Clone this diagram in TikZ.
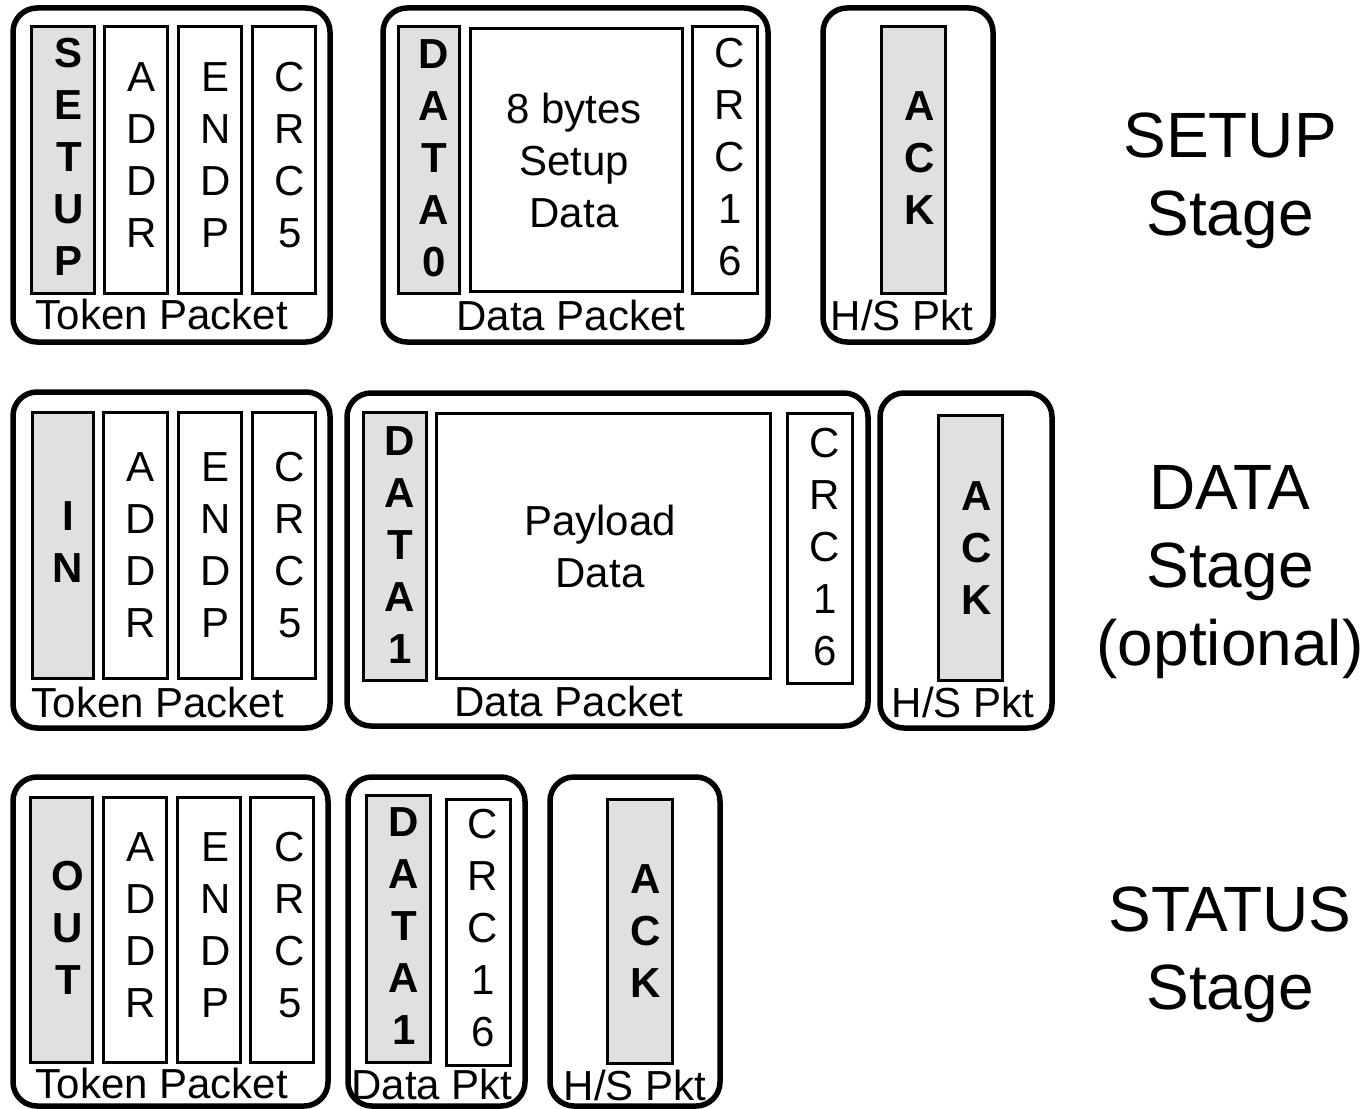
\documentclass[tikz,border=0pt]{standalone}
\usepackage{fontspec}
\setmainfont{Liberation Sans}
\definecolor{shade}{RGB}{224,224,226}
\tikzset{
  pkt/.style={line width=5.5pt, rounded corners=24pt},
  fld/.style={line width=3pt},
  sfld/.style={fld, fill=shade},
  ltr/.style={font=\fontsize{42}{52}\selectfont, align=center, inner sep=0pt},
  bltr/.style={font=\fontsize{42}{52}\selectfont\bfseries, align=center, inner sep=0pt},
  mid/.style={font=\fontsize{42}{52}\selectfont, align=center, inner sep=0pt},
  lbl/.style={font=\fontsize{42}{42}\selectfont, anchor=base, inner sep=0pt},
  stage/.style={font=\fontsize{64}{78}\selectfont, align=center, inner sep=0pt, anchor=north},
}
\begin{document}
\begin{tikzpicture}[x=1pt,y=-1pt]
\useasboundingbox (0,0) rectangle (1367,1108);
% ---------------- SETUP stage ----------------
\draw[pkt] (13,8) rectangle (330,342);
\draw[sfld] (31,27) rectangle (94,293);
\draw[fld] (104,27) rectangle (167,293);
\draw[fld] (178,27) rectangle (241,293);
\draw[fld] (252,27) rectangle (315,293);
\node[bltr] (r1pid) at (69,157) {S\\E\\T\\U\\P};
\node[ltr] (r1addr) at (142,155) {A\\D\\D\\R};
\node[ltr] (r1endp) at (216,155) {E\\N\\D\\P};
\node[ltr] (r1crc) at (290,155) {C\\R\\C\\5};
\node[lbl] (r1tok) at (162,329) {Token Packet};

\draw[pkt] (383,8) rectangle (768,342);
\draw[sfld] (398,27) rectangle (459,293);
\draw[fld] (470,29) rectangle (682,291);
\draw[fld] (692,27) rectangle (757,293);
\node[bltr] (r1dpid) at (434,158) {D\\A\\T\\A\\0};
\node[mid] (r1pay) at (574,160) {8 bytes\\Setup\\Data};
\node[ltr] (r1crc16) at (730,157) {C\\R\\C\\1\\6};
\node[lbl] (r1dlbl) at (571,330) {Data Packet};

\draw[pkt] (823,8) rectangle (993,342);
\draw[sfld] (881,27) rectangle (945,293);
\node[bltr] (r1ack) at (920,158) {A\\C\\K};
\node[lbl] (r1hs) at (902,330) {H/S Pkt};

\node[stage] (s1) at (1230,113) {SETUP\\Stage};

% ---------------- DATA stage ----------------
\draw[pkt] (13,392) rectangle (330,728);
\draw[sfld] (32,412) rectangle (93,678);
\draw[fld] (103,412) rectangle (167,678);
\draw[fld] (178,412) rectangle (241,678);
\draw[fld] (252,412) rectangle (315,678);
\node[bltr] (r2pid) at (68,542) {I\\N};
\node[ltr] (r2addr) at (141,545) {A\\D\\D\\R};
\node[ltr] (r2endp) at (216,545) {E\\N\\D\\P};
\node[ltr] (r2crc) at (290,545) {C\\R\\C\\5};
\node[lbl] (r2tok) at (158,717) {Token Packet};

\draw[pkt] (347,393) rectangle (868,726);
\draw[sfld] (363,412) rectangle (426,680);
\draw[fld] (436,413) rectangle (770,678);
\draw[fld] (787,413) rectangle (852,683);
\node[bltr] (r2dpid) at (400,545) {D\\A\\T\\A\\1};
\node[mid] (r2pay) at (600,546) {Payload\\Data};
\node[ltr] (r2crc16) at (825,547) {C\\R\\C\\1\\6};
\node[lbl] (r2dlbl) at (569,716) {Data Packet};

\draw[pkt] (880,393) rectangle (1052,728);
\draw[sfld] (938,415) rectangle (1002,680);
\node[bltr] (r2ack) at (977,548) {A\\C\\K};
\node[lbl] (r2hs) at (963,717) {H/S Pkt};

\node[stage] (s2) at (1230,465) {DATA\\Stage\\(optional)};

% ---------------- STATUS stage ----------------
\draw[pkt] (13,777) rectangle (328,1106);
\draw[sfld] (30,797) rectangle (92,1062);
\draw[fld] (103,797) rectangle (166,1062);
\draw[fld] (177,797) rectangle (240,1062);
\draw[fld] (250,797) rectangle (313,1062);
\node[bltr] (r3pid) at (68,928) {O\\U\\T};
\node[ltr] (r3addr) at (141,925) {A\\D\\D\\R};
\node[ltr] (r3endp) at (216,925) {E\\N\\D\\P};
\node[ltr] (r3crc) at (290,925) {C\\R\\C\\5};
\node[lbl] (r3tok) at (162,1098) {Token Packet};

\draw[pkt] (348,777) rectangle (525,1106);
\draw[sfld] (366,795) rectangle (430,1062);
\draw[fld] (446,799) rectangle (510,1065);
\node[bltr] (r3dpid) at (404,926) {D\\A\\T\\A\\1};
\node[ltr] (r3crc16) at (483,928) {C\\R\\C\\1\\6};
\node[lbl] (r3dlbl) at (432,1099) {Data Pkt};

\draw[pkt] (550,777) rectangle (720,1106);
\draw[sfld] (607,799) rectangle (672,1063);
\node[bltr] (r3ack) at (646,931) {A\\C\\K};
\node[lbl] (r3hs) at (635,1100) {H/S Pkt};

\node[stage] (s3) at (1230,887) {STATUS\\Stage};
\end{tikzpicture}
\end{document}
